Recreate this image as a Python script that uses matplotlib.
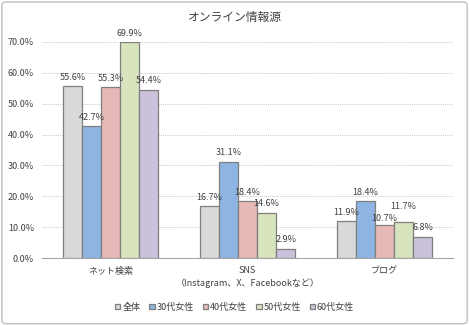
import matplotlib.pyplot as plt
import numpy as np
from matplotlib.patches import FancyBboxPatch
from matplotlib.ticker import FuncFormatter

plt.rcParams['font.family'] = ['Noto Sans CJK JP', 'DejaVu Sans']

categories = ['ネット検索', 'SNS\n（Instagram、X、Facebookなど）', 'ブログ']
series = ['全体', '30代女性', '40代女性', '50代女性', '60代女性']
values = [
    [55.6, 16.7, 11.9],
    [42.7, 31.1, 18.4],
    [55.3, 18.4, 10.7],
    [69.9, 14.6, 11.7],
    [54.4, 2.9, 6.8],
]
colors = ['#D9D9D9', '#8EB4E3', '#E6B9B8', '#D7E4BD', '#CCC1DA']

fig = plt.figure(figsize=(4.69, 3.25), dpi=100)
# outer frame of the chart area
fig.patches.append(FancyBboxPatch((0.004, 0.004), 0.992, 0.99,
                                  boxstyle='round,pad=0,rounding_size=0.01',
                                  transform=fig.transFigure, fc='none',
                                  ec='#BFBFBF', lw=1, zorder=-1))
ax = fig.add_axes([0.09, 0.206, 0.876, 0.665])

# a couple of labels in the blog group sit closer together, so nudge them apart
nudge = {(2, 2): -0.8, (3, 2): 2.0}

x = np.arange(len(categories))
w = 0.139
for i, (name, vals, c) in enumerate(zip(series, values, colors)):
    pos = x + (i - 2) * w
    ax.bar(pos, vals, w, color=c, edgecolor='#7F7F7F', linewidth=0.9,
           label=name, zorder=3)
    for j, (px, v) in enumerate(zip(pos, vals)):
        ax.text(px, v + 1.5 + nudge.get((i, j), 0), f'{v:.1f}%',
                ha='center', va='bottom', fontsize=6.5, color='#404040',
                clip_on=False, zorder=4)

ax.set_ylim(0, 70)
ax.set_xlim(-0.5, 2.5)
ax.set_yticks(np.arange(0, 71, 10))
ax.yaxis.set_major_formatter(FuncFormatter(lambda v, p: f'{v:.1f}%'))
ax.set_xticks(x)
ax.set_xticklabels(categories, fontsize=6.5, color='#404040', linespacing=1.4)
ax.tick_params(axis='y', labelsize=6.5, labelcolor='#404040', length=0, pad=6)
ax.tick_params(axis='x', length=0, pad=6)
ax.grid(axis='y', linestyle=(0, (1, 1)), color='#C8C8C8', linewidth=0.7, zorder=0)
for s in ['top', 'right', 'left']:
    ax.spines[s].set_visible(False)
ax.spines['bottom'].set_color('#A6A6A6')

fig.text(0.5, 0.945, 'オンライン情報源', ha='center', va='center',
         fontsize=8.5, color='#404040')
fig.legend(loc='center', bbox_to_anchor=(0.5, 0.055), ncol=5, frameon=False,
           fontsize=6.5, handlelength=0.6, handleheight=0.6, handletextpad=0.2,
           columnspacing=1.0, labelcolor='#404040')

fig.savefig('out.png', dpi=100)
